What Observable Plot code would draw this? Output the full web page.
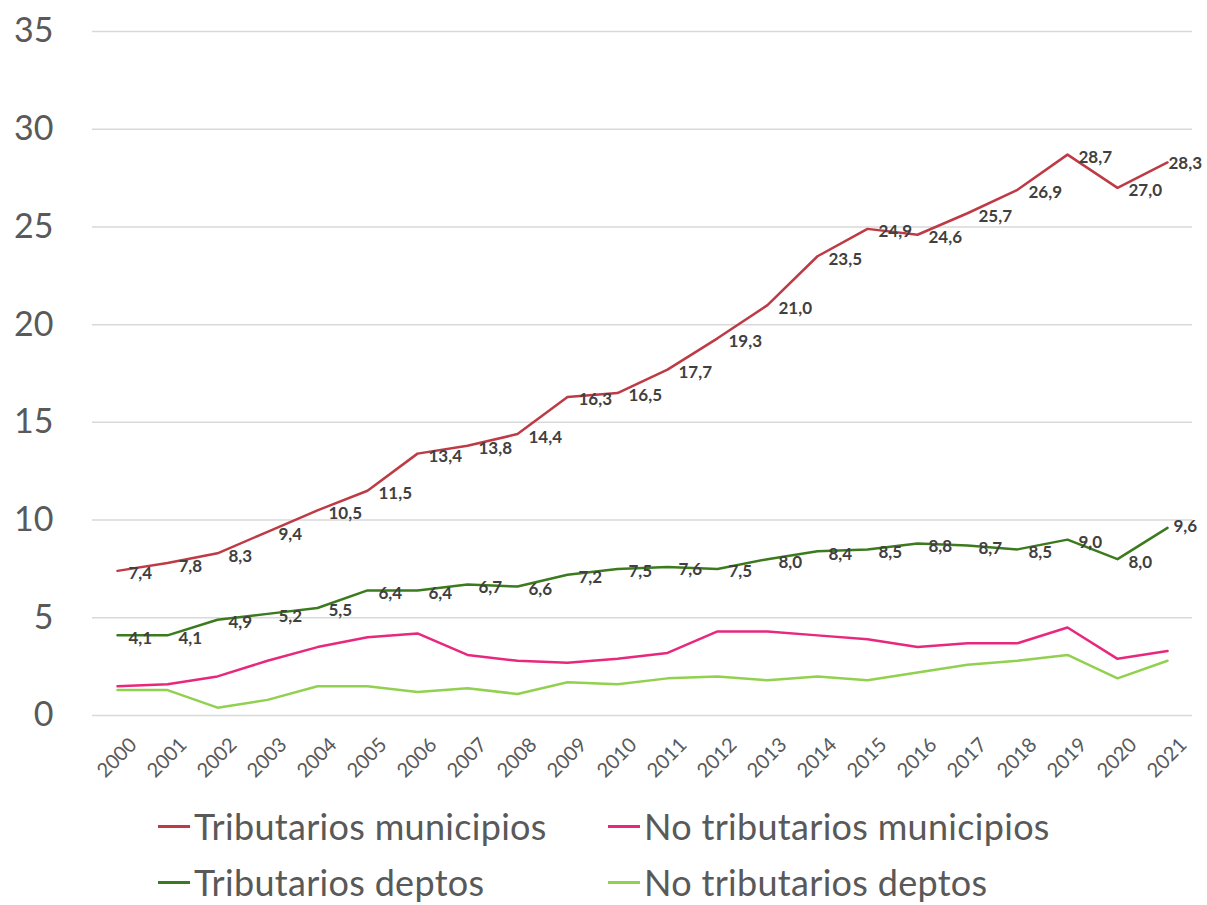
<!DOCTYPE html>
<html>
<head>
<meta charset="utf-8">
<script src="https://cdn.jsdelivr.net/npm/d3@7"></script>
<script src="https://cdn.jsdelivr.net/npm/@observablehq/plot@0.6"></script>
<style>
  body { margin: 0; background: #fff; font-family: Lato, sans-serif; overflow: hidden; }
  #wrap { width: 1207px; position: relative; }
  #legend { position: relative; width: 1207px; height: 115px; }
  .item { position: absolute; display: flex; align-items: center; font-size: 36px; color: #595959; white-space: nowrap; line-height: 1; height: 40px; letter-spacing: 0.3px; }
  .sw { width: 32px; height: 3px; margin-right: 4px; }
</style>
</head>
<body>
<div id="wrap">
  <div id="chart"></div>
  <div id="legend"></div>
</div>
<script>
const years = [2000,2001,2002,2003,2004,2005,2006,2007,2008,2009,2010,2011,2012,2013,2014,2015,2016,2017,2018,2019,2020,2021];
const tributariosMunicipios = [7.4,7.8,8.3,9.4,10.5,11.5,13.4,13.8,14.4,16.3,16.5,17.7,19.3,21.0,23.5,24.9,24.6,25.7,26.9,28.7,27.0,28.3];
const noTributariosMunicipios = [1.5,1.6,2.0,2.8,3.5,4.0,4.2,3.1,2.8,2.7,2.9,3.2,4.3,4.3,4.1,3.9,3.5,3.7,3.7,4.5,2.9,3.3];
const tributariosDeptos = [4.1,4.1,4.9,5.2,5.5,6.4,6.4,6.7,6.6,7.2,7.5,7.6,7.5,8.0,8.4,8.5,8.8,8.7,8.5,9.0,8.0,9.6];
const noTributariosDeptos = [1.3,1.3,0.4,0.8,1.5,1.5,1.2,1.4,1.1,1.7,1.6,1.9,2.0,1.8,2.0,1.8,2.2,2.6,2.8,3.1,1.9,2.8];
const yTicks = [0,5,10,15,20,25,30,35];

const seriesNames = ["Tributarios municipios","No tributarios municipios","Tributarios deptos","No tributarios deptos"];
const seriesColors = ["#BE3A45","#E8287D","#3C7A1E","#92D050"];
const seriesValues = [tributariosMunicipios, noTributariosMunicipios, tributariosDeptos, noTributariosDeptos];

const rows = (vals, name) => years.map((year, i) => ({year, value: vals[i], series: name}));
const data = seriesValues.map((v, k) => rows(v, seriesNames[k]));
const fmt = v => v.toFixed(1).replace(".", ",");
const last = years[years.length - 1];
const body = d => d.year !== last;
const tail = d => d.year === last;
const labelStyle = {x: "year", y: "value", text: d => fmt(d.value), textAnchor: "start", fontSize: 17, fontWeight: "bold", fill: "#404040"};

const chart = Plot.plot({
  width: 1207,
  height: 790,
  marginTop: 31,
  marginBottom: 75,
  marginLeft: 92,
  marginRight: 15,
  style: {fontFamily: "Lato, sans-serif", background: "#fff", overflow: "visible"},
  x: {type: "point", domain: years, padding: 0.5},
  y: {domain: [0, 35]},
  marks: [
    Plot.gridY(yTicks, {stroke: "#d9d9d9", strokeOpacity: 1, strokeWidth: 1.5}),
    Plot.axisY(yTicks, {tickSize: 0, tickPadding: 39, fontSize: 34, fill: "#595959", label: null, tickFormat: d => String(d)}),
    Plot.axisX({tickSize: 0, tickRotate: -45, fontSize: 20, fill: "#595959", label: null, tickPadding: 26, dx: 16, tickFormat: d => String(d)}),
    Plot.line(data[3], {x: "year", y: "value", stroke: seriesColors[3], strokeWidth: 2.5}),
    Plot.line(data[1], {x: "year", y: "value", stroke: seriesColors[1], strokeWidth: 2.5}),
    Plot.line(data[2], {x: "year", y: "value", stroke: seriesColors[2], strokeWidth: 2.5}),
    Plot.line(data[0], {x: "year", y: "value", stroke: seriesColors[0], strokeWidth: 2.5}),
    Plot.text(data[2], {...labelStyle, filter: body, dx: 11, dy: 3}),
    Plot.text(data[0], {...labelStyle, filter: body, dx: 11, dy: 3}),
    Plot.text(data[2], {...labelStyle, filter: tail, dx: 6, dy: -1}),
    Plot.text(data[0], {...labelStyle, filter: tail, dx: 1, dy: 1})
  ]
});
document.getElementById("chart").appendChild(chart);

const legend = document.getElementById("legend");
const pos = [[158, 36], [608, 36], [158, 92], [608, 92]];
seriesNames.forEach((name, k) => {
  const it = document.createElement("div");
  it.className = "item";
  it.style.left = pos[k][0] + "px";
  it.style.top = (pos[k][1] - 20) + "px";
  it.innerHTML = `<span class="sw" style="background:${seriesColors[k]}"></span><span>${name}</span>`;
  legend.appendChild(it);
});
</script>
</body>
</html>
